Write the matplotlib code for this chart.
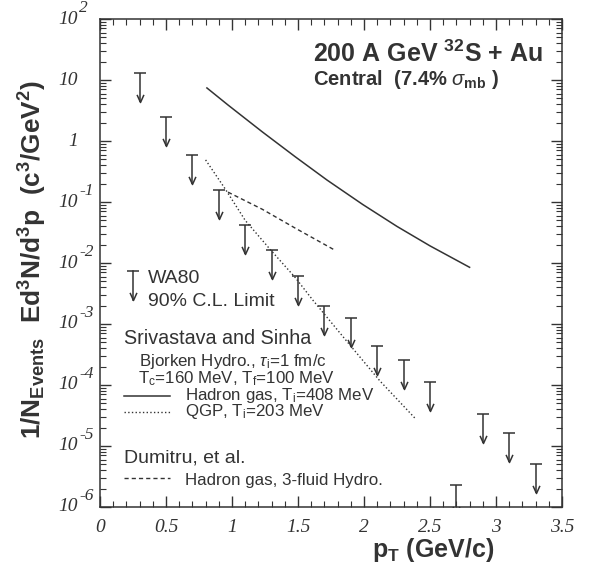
import numpy as np
import matplotlib
matplotlib.use('Agg')
import matplotlib.pyplot as plt
from matplotlib.path import Path
from matplotlib.ticker import MultipleLocator, LogLocator, NullFormatter

plt.rcParams['font.family'] = 'Liberation Sans'
plt.rcParams['mathtext.fontset'] = 'custom'
plt.rcParams['mathtext.rm'] = 'Liberation Sans'
plt.rcParams['mathtext.bf'] = 'Liberation Sans:bold'
plt.rcParams['mathtext.it'] = 'Liberation Sans:italic'

# WA80, 90% C.L. upper limits
wa80_pt = [0.3, 0.5, 0.7, 0.9, 1.1, 1.3, 1.5, 1.7, 1.9, 2.1, 2.3, 2.5, 2.7, 2.9, 3.1, 3.3]
wa80_lim = [13, 2.5, 0.59, 0.157, 0.042, 0.0163, 6.1e-3, 1.97e-3, 1.25e-3, 4.4e-4,
            2.6e-4, 1.12e-4, 2.3e-6, 3.35e-5, 1.63e-5, 5.1e-6]

# Srivastava and Sinha, hadron gas Ti=408 MeV
had_pt = [0.81, 0.97, 1.23, 1.48, 1.72, 1.99, 2.25, 2.5, 2.8]
had_val = [7.41, 3.89, 1.41, 0.55, 0.229, 0.0912, 0.0398, 0.0191, 0.0085]

# Srivastava and Sinha, QGP Ti=203 MeV
qgp_pt = [0.8, 0.95, 1.1, 1.29, 1.48, 1.61, 1.87, 2.12, 2.39]
qgp_val = [0.49, 0.162, 0.050, 0.0166, 5.75e-3, 2.5e-3, 5.2e-4, 1.17e-4, 2.8e-5]

# Dumitru et al., hadron gas 3-fluid hydro
dum_pt = [0.97, 1.23, 1.48, 1.78]
dum_val = [0.145, 0.0759, 0.0372, 0.0162]

xticks = [0, 0.5, 1, 1.5, 2, 2.5, 3, 3.5]
xticklabels = ['0', '0.5', '1', '1.5', '2', '2.5', '3', '3.5']
yexp = [-6, -5, -4, -3, -2, -1, 0, 1, 2]
ybase = ['10', '10', '10', '10', '10', '10', '1', '10', '10']
ysup = ['-6', '-5', '-4', '-3', '-2', '-1', '', '', '2']

fig = plt.figure(figsize=(5.9, 5.71), dpi=100)
ax = fig.add_axes([0.1695, 0.1121, 0.783, 0.8546])
ax.set_yscale('log')
ax.set_xlim(0, 3.5)
ax.set_ylim(1e-6, 1e2)

c = '#333333'
ax.plot(had_pt, had_val, '-', color=c, lw=1.1)
ax.plot(qgp_pt, qgp_val, ':', color=c, lw=1.0)
ax.plot(dum_pt, dum_val, '--', color=c, lw=1.0, dashes=(3, 2.2))

# upper-limit arrows
vee = Path([(-0.45, 1.0), (0, 0), (0.45, 1.0)], [Path.MOVETO, Path.LINETO, Path.LINETO])
tips = [v * 0.335 for v in wa80_lim]
ax.vlines(wa80_pt, tips, wa80_lim, color=c, lw=1.1)
ax.plot(wa80_pt, wa80_lim, ls='none', marker='_', ms=8, mew=1.1, color=c)
ax.plot(wa80_pt, tips, ls='none', marker=vee, ms=11, mew=1.1, mfc='none', mec=c)

# ticks
ax.xaxis.set_major_locator(MultipleLocator(0.5))
ax.xaxis.set_minor_locator(MultipleLocator(0.1))
ax.yaxis.set_major_locator(LogLocator(base=10, numticks=20))
ax.yaxis.set_minor_locator(LogLocator(base=10, subs=np.arange(2, 10), numticks=20))
ax.yaxis.set_minor_formatter(NullFormatter())
ax.tick_params(which='both', direction='in', top=True, right=True, colors=c)
ax.tick_params(which='major', length=8, width=1.0)
ax.tick_params(which='minor', length=4, width=0.8)
ax.set_xticks(xticks)
ax.set_xticklabels(xticklabels, fontfamily='Liberation Serif', fontstyle='italic',
                   fontsize=14, color=c)
ax.tick_params(axis='x', pad=9)
ax.set_yticklabels([])
for s in ax.spines.values():
    s.set_color(c)
    s.set_linewidth(1.1)

for e, b, s in zip(yexp, ybase, ysup):
    ax.annotate(b, xy=(0, 10.0 ** e), xycoords=('axes fraction', 'data'),
                xytext=(-22, 0), textcoords='offset pixels', ha='right', va='center',
                fontfamily='Liberation Serif', fontstyle='italic', fontsize=14, color=c)
    if s:
        ax.annotate(s, xy=(0, 10.0 ** e), xycoords=('axes fraction', 'data'),
                    xytext=(-21, 7), textcoords='offset pixels', ha='left', va='baseline',
                    fontfamily='Liberation Serif', fontstyle='italic', fontsize=12.5, color=c)

# title text
ax.text(0.461, 0.912, r'200 A GeV $^{\mathbf{32}}$S + Au', transform=ax.transAxes,
        fontsize=18, fontweight='bold', color=c, va='baseline')
ax.text(0.461, 0.865, r'Central  (7.4% $\sigma_{\mathbf{mb}}$ )', transform=ax.transAxes,
        fontsize=14.5, fontweight='bold', color=c, va='baseline')

# legend block
ax.plot([0.0714, 0.0714], [0.424, 0.4836], transform=ax.transAxes, color=c, lw=1.1)
ax.plot([0.0714], [0.4836], transform=ax.transAxes, marker='_', ms=8, mew=1.1, color=c)
ax.plot([0.0714], [0.424], transform=ax.transAxes, marker=vee, ms=11, mew=1.1,
        mfc='none', mec=c)
ax.text(0.1039, 0.469, 'WA80', transform=ax.transAxes, fontsize=14, color=c, va='center')
ax.text(0.1039, 0.422, '90% C.L. Limit', transform=ax.transAxes, fontsize=14, color=c,
        va='center')
ax.text(0.052, 0.345, 'Srivastava and Sinha', transform=ax.transAxes, fontsize=14.2,
        color=c, va='center')
ax.text(0.084, 0.298, r'Bjorken Hydro., $\tau_{\mathrm{i}}$=1 fm/c', transform=ax.transAxes,
        fontsize=12.2, color=c, va='center')
ax.text(0.082, 0.2635, r'T$_{\mathrm{c}}$=160 MeV, T$_{\mathrm{f}}$=100 MeV',
        transform=ax.transAxes, fontsize=12.2, color=c, va='center')
ax.plot([0.052, 0.152], [0.2275, 0.2275], '-', transform=ax.transAxes, color=c, lw=1.1)
ax.text(0.184, 0.2295, r'Hadron gas, T$_{\mathrm{i}}$=408 MeV', transform=ax.transAxes,
        fontsize=12.2, color=c, va='center')
ax.plot([0.052, 0.152], [0.195, 0.195], ':', transform=ax.transAxes, color=c, lw=1.0)
ax.text(0.184, 0.196, r'QGP, T$_{\mathrm{i}}$=203 MeV', transform=ax.transAxes,
        fontsize=12.2, color=c, va='center')
ax.text(0.052, 0.1004, 'Dumitru, et al.', transform=ax.transAxes, fontsize=14, color=c,
        va='center')
ax.plot([0.052, 0.152], [0.0594, 0.0594], '--', transform=ax.transAxes, color=c, lw=1.0,
        dashes=(3, 2.2))
ax.text(0.184, 0.055, 'Hadron gas, 3-fluid Hydro.', transform=ax.transAxes,
        fontsize=12.2, color=c, va='center')

# axis labels
fig.text(0.056, 0.545,
         r'1/N$_{\mathbf{Events}}$  Ed$^{\mathbf{3}}$N/d$^{\mathbf{3}}$p  (c$^{\mathbf{3}}$/GeV$^{\mathbf{2}}$)',
         rotation=90, ha='center', va='center', fontsize=18.8, fontweight='bold', color=c)
fig.text(0.734, 0.036, r'p$_{\mathbf{T}}$ (GeV/c)', ha='center', va='center', fontsize=18,
         fontweight='bold', color=c)

fig.savefig('out.png', dpi=100)
